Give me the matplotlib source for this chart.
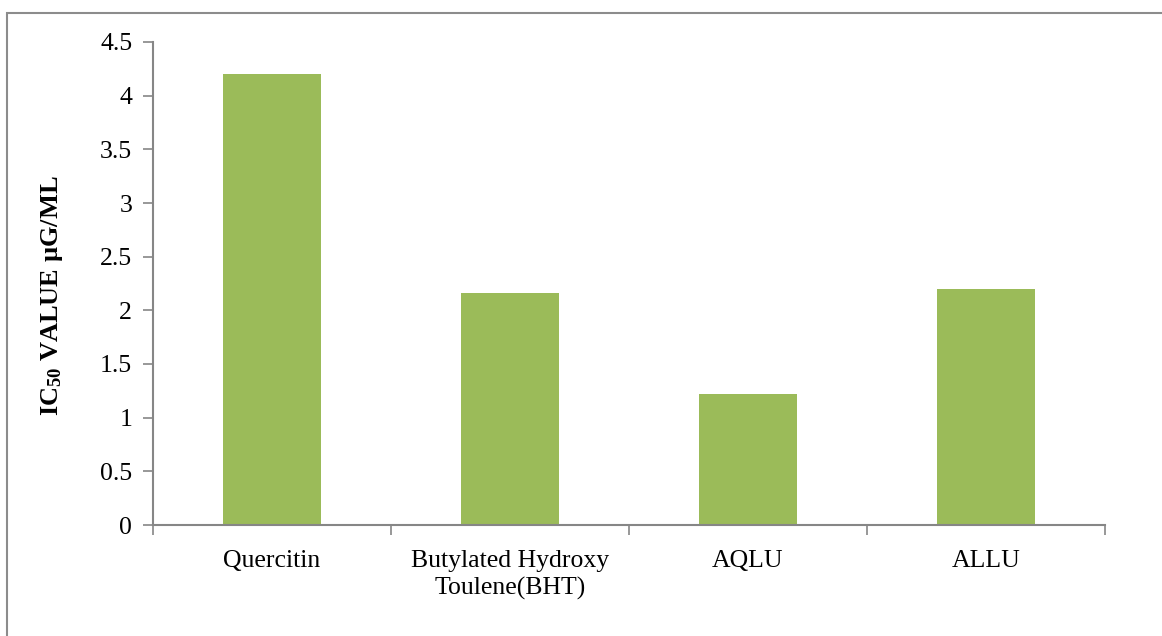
import matplotlib.pyplot as plt
from matplotlib.patches import Rectangle

categories = ["Quercitin", "Butylated Hydroxy\nToulene(BHT)", "AQLU", "ALLU"]
ic50_values = [4.2, 2.16, 1.22, 2.2]
y_ticks = [0, 0.5, 1, 1.5, 2, 2.5, 3, 3.5, 4, 4.5]
y_tick_labels = ["0", "0.5", "1", "1.5", "2", "2.5", "3", "3.5", "4", "4.5"]

plt.rcParams["font.family"] = ["Liberation Serif", "DejaVu Serif"]
plt.rcParams["mathtext.fontset"] = "custom"
plt.rcParams["mathtext.rm"] = "Liberation Serif"
plt.rcParams["mathtext.bf"] = "Liberation Serif:bold"
plt.rcParams["mathtext.default"] = "bf"

axis_color = "#868686"
bar_color = "#9BBB59"

fig = plt.figure(figsize=(11.62, 6.36), dpi=100)
ax = fig.add_axes([153 / 1162, 1 - 525 / 636, (1105 - 153) / 1162, (525 - 42) / 636])

x = list(range(len(categories)))
ax.bar(x, ic50_values, width=0.41, color=bar_color, zorder=2)

ax.set_xlim(-0.5, len(categories) - 0.5)
ax.set_ylim(0, 4.5)
ax.set_yticks(y_ticks)
ax.set_yticklabels(y_tick_labels)
ax.set_xticks(x)
ax.set_xticklabels(categories, linespacing=1.25)
ax.set_xticks([i - 0.5 for i in range(len(categories) + 1)], minor=True)

ax.tick_params(axis="y", direction="out", length=7, width=1.2, color=axis_color,
               labelsize=18.5, pad=8)
ax.tick_params(axis="x", which="major", length=0, labelsize=18.5, pad=18)
ax.tick_params(axis="x", which="minor", direction="out", length=7, width=1.2, color=axis_color)

for side in ["top", "right"]:
    ax.spines[side].set_visible(False)
for side in ["left", "bottom"]:
    ax.spines[side].set_color(axis_color)
    ax.spines[side].set_linewidth(1.5)

ax.set_ylabel(r"IC$_{50}$ VALUE µG/ML", fontsize=19, fontweight="bold")
ax.yaxis.set_label_coords(-0.092, 0.475)

# chart-area border, cut off on right and bottom like the source image
fig.patches.append(Rectangle((7 / 1162, -0.05), 1.1, 1 - 13 / 636 + 0.05,
                             transform=fig.transFigure, fill=False,
                             edgecolor="#8c8c8c", linewidth=1.5))

fig.savefig("out.png", dpi=100)
